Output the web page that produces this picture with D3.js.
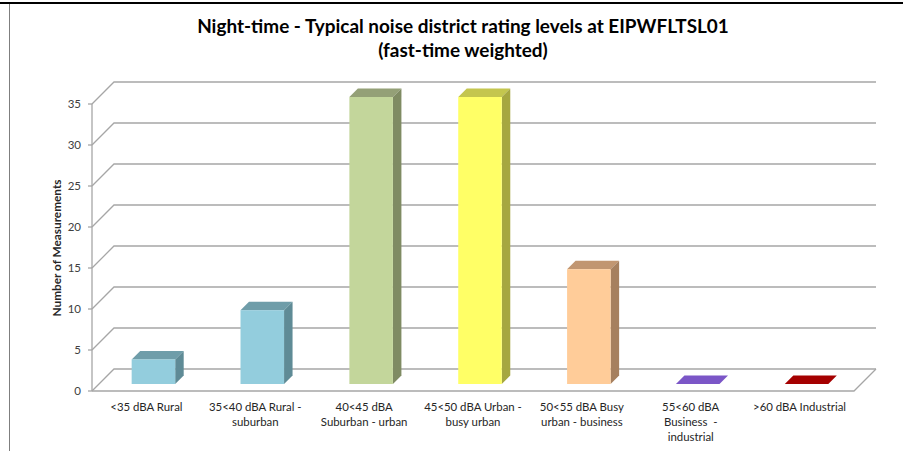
<!DOCTYPE html>
<html><head><meta charset="utf-8">
<script src="https://cdn.jsdelivr.net/npm/d3@7/dist/d3.min.js"></script>
<style>
html,body{margin:0;padding:0;background:#fff;}
svg{display:block;font-family:Lato,"Open Sans",sans-serif;}
</style></head>
<body>
<svg id="chart" width="908" height="451"></svg>
<script>
// ---- data ----
const categories = ["<35 dBA Rural","35<40 dBA Rural - suburban","40<45 dBA Suburban - urban","45<50 dBA Urban - busy urban","50<55 dBA Busy urban - business","55<60 dBA Business  - industrial",">60 dBA Industrial"];
const labelLines = [["<35 dBA Rural"],["35<40 dBA Rural -","suburban"],["40<45 dBA","Suburban - urban"],["45<50 dBA Urban -","busy urban"],["50<55 dBA Busy","urban - business"],["55<60 dBA","Business  -","industrial"],[">60 dBA Industrial"]];
const values = [3, 9, 35, 35, 14, 0, 0];
const frontColors = ["#93CDDD","#93CDDD","#C3D69B","#FFFF66","#FFCC99","#7B56C7","#A50000"];
const sideColors  = ["#5F8B96","#5F8B96","#7F8B63","#A6A740","#A6805F","#4E3683","#6A0000"];
const topColors   = ["#6F9DA9","#6F9DA9","#94A077","#C4C64E","#C19671","#7B56C7","#A50000"];
const yTicks = [0,5,10,15,20,25,30,35];
const titleLines = ["Night-time - Typical noise district rating levels at EIPWFLTSL01","(fast-time weighted)"];
const yTitle = "Number of Measurements";

(function(){
// ---- layout ----
const svg = d3.select("#chart");
const W = 908, H = 451;
const pLeft = 92, pRight = 854, pBottom = 391, pTop = 104;
const D = 22;               // wall depth offset
const d0 = 7, d1 = 15.5;    // bar front/back depth

const x = d3.scaleBand().domain(categories).range([pLeft, pRight]).paddingInner(0).paddingOuter(0);
const y = d3.scaleLinear().domain([0, 35]).range([pBottom, pTop]);
const bw = x.bandwidth() * 0.4;

// frame
svg.append("line").attr("x1",0).attr("x2",903).attr("y1",3).attr("y2",3).attr("stroke","#000").attr("stroke-width",2);
svg.append("line").attr("x1",9.5).attr("x2",9.5).attr("y1",4).attr("y2",H).attr("stroke","#7f7f7f").attr("stroke-width",1);

const gridColor = "#A6A6A6";
const g = svg.append("g").attr("fill","none").attr("stroke",gridColor).attr("stroke-width",1.3);

yTicks.forEach(t => {
  const yy = y(t);
  g.append("path").attr("d", `M${pLeft},${yy}L${pLeft+D},${yy-D}L${pRight+D},${yy-D}`);
});
g.append("path").attr("d", `M${pLeft},${y(0)}L${pRight},${y(0)}L${pRight+D},${y(0)-D}`);
g.append("line").attr("x1",pLeft).attr("x2",pLeft).attr("y1",y(35)).attr("y2",y(0));
yTicks.forEach(t => {
  g.append("line").attr("x1",pLeft-4).attr("x2",pLeft).attr("y1",y(t)).attr("y2",y(t));
});

svg.append("g").selectAll("text").data(yTicks).join("text")
  .attr("x", pLeft - 11).attr("y", d => y(d)).attr("dy","0.35em")
  .attr("text-anchor","end").attr("font-size",11.5).attr("fill","#404040")
  .text(d => d);

svg.append("text").attr("transform",`translate(61,248) rotate(-90)`)
  .attr("text-anchor","middle").attr("font-size",11.8).attr("font-weight","bold").attr("fill","#262626")
  .text(yTitle);

const bars = svg.append("g");
categories.forEach((c, i) => {
  const cx = x(c) + x.bandwidth()/2;
  const v = values[i];
  const fx0 = cx + d0 - bw/2, fx1 = cx + d0 + bw/2;
  const fyb = y(0) - d0, fyt = y(v) - d0;
  const dd = d1 - d0;
  bars.append("path").attr("d", `M${fx0},${fyt}L${fx0+dd},${fyt-dd}L${fx1+dd},${fyt-dd}L${fx1},${fyt}Z`)
    .attr("fill", topColors[i]);
  if (v > 0) {
    bars.append("path").attr("d", `M${fx1},${fyt}L${fx1+dd},${fyt-dd}L${fx1+dd},${fyb-dd}L${fx1},${fyb}Z`)
      .attr("fill", sideColors[i]);
    bars.append("rect").attr("x", fx0).attr("y", fyt).attr("width", bw).attr("height", fyb - fyt)
      .attr("fill", frontColors[i]);
  }
});

const xl = svg.append("g").attr("font-size",11.4).attr("fill","#262626").attr("text-anchor","middle");
categories.forEach((c, i) => {
  const cx = x(c) + x.bandwidth()/2;
  const t = xl.append("text").attr("x", cx).attr("y", 411).attr("xml:space","preserve");
  labelLines[i].forEach((ln, j) => {
    t.append("tspan").attr("x", cx).attr("y", 411 + j*15).text(ln);
  });
});

const tt = svg.append("text").attr("text-anchor","middle").attr("font-weight","bold").attr("fill","#000");
const l1 = tt.append("tspan").attr("x",463).attr("y",33).attr("font-size",18).text(titleLines[0]);
const l2 = tt.append("tspan").attr("x",463).attr("y",57).attr("font-size",18).text(titleLines[1]);
const w1 = l1.node().getComputedTextLength();
const fs = 18 * 532 / w1;
l1.attr("font-size", fs); l2.attr("font-size", fs);
})();
</script>
</body></html>
